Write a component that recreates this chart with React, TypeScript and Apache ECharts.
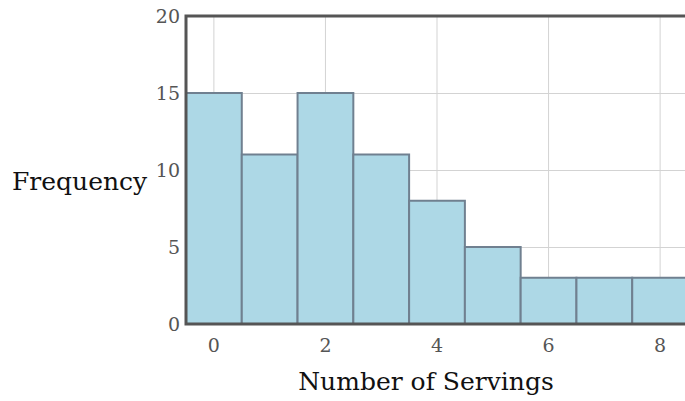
import React, { useEffect, useRef } from "react";
import * as echarts from "echarts";

const servings = [0, 1, 2, 3, 4, 5, 6, 7, 8];
const frequency = [15, 11, 15, 11, 8, 5, 3, 3, 3];
const xTicks = [0, 2, 4, 6, 8];
const yTicks = [0, 5, 10, 15, 20];
const xTitle = "Number of Servings";
const yTitle = "Frequency";

export default function App() {
  const ref = useRef<HTMLDivElement>(null);
  useEffect(() => {
    document.body.style.margin = "0";
    document.body.style.overflow = "hidden";
    const chart = echarts.init(ref.current!, null, { renderer: "svg" });
    const font = "DejaVu Serif";
    chart.setOption({
      animation: false,
      grid: {
        left: 186,
        right: -3,
        top: 16,
        bottom: 77,
        containLabel: false,
        outerBoundsMode: "none",
        show: true,
        borderColor: "#555",
        borderWidth: 3,
        z: 10,
      },
      graphic: [
        {
          type: "text",
          left: 12,
          top: 169,
          style: {
            text: yTitle,
            fontFamily: font,
            fontSize: 25,
            fill: "#111",
          },
        },
        {
          type: "text",
          x: 426,
          y: 381,
          style: {
            text: xTitle,
            fontFamily: font,
            fontSize: 25,
            fill: "#111",
            align: "center",
            verticalAlign: "middle",
          },
        },
      ],
      xAxis: {
        type: "value",
        min: -0.5,
        max: 8.5,
        interval: 0.5,
        axisLine: { show: false },
        axisTick: { show: false },
        axisLabel: {
          fontFamily: font,
          fontSize: 19,
          color: "#555",
          margin: 11,
          formatter: (v: number) => (xTicks.includes(v) ? String(v) : ""),
          showMinLabel: false,
          showMaxLabel: false,
        },
        splitLine: { show: false },
      },
      yAxis: {
        type: "value",
        min: 0,
        max: 20,
        interval: 5,
        axisLine: { show: false },
        axisTick: { show: false },
        axisLabel: {
          fontFamily: font,
          fontSize: 19,
          color: "#555",
          margin: 6,
          formatter: (v: number) => (yTicks.includes(v) ? String(v) : ""),
        },
        splitLine: { show: true, lineStyle: { color: "#d3d3d3", width: 1 } },
      },
      series: [
        {
          type: "custom",
          z: 1,
          data: xTicks.map((t) => [t]),
          encode: { x: 0 },
          renderItem: (_params: any, api: any) => {
            const x = api.value(0);
            const p1 = api.coord([x, 20]);
            const p2 = api.coord([x, 0]);
            return {
              type: "line",
              shape: { x1: p1[0], y1: p1[1], x2: p2[0], y2: p2[1] },
              style: { stroke: "#d3d3d3", lineWidth: 1 },
            };
          },
        },
        {
          type: "custom",
          z: 2,
          data: servings.map((s, i) => [s, frequency[i]]),
          encode: { x: 0, y: 1 },
          renderItem: (_params: any, api: any) => {
            const x = api.value(0);
            const y = api.value(1);
            const p1 = api.coord([x - 0.5, y]);
            const p2 = api.coord([x + 0.5, 0]);
            return {
              type: "rect",
              shape: { x: p1[0], y: p1[1], width: p2[0] - p1[0], height: p2[1] - p1[1] },
              style: { fill: "#add8e6", stroke: "#708090", lineWidth: 2 },
            };
          },
        },
      ],
    });
    return () => chart.dispose();
  }, []);
  return <div ref={ref} style={{ width: 685, height: 401 }} />;
}
